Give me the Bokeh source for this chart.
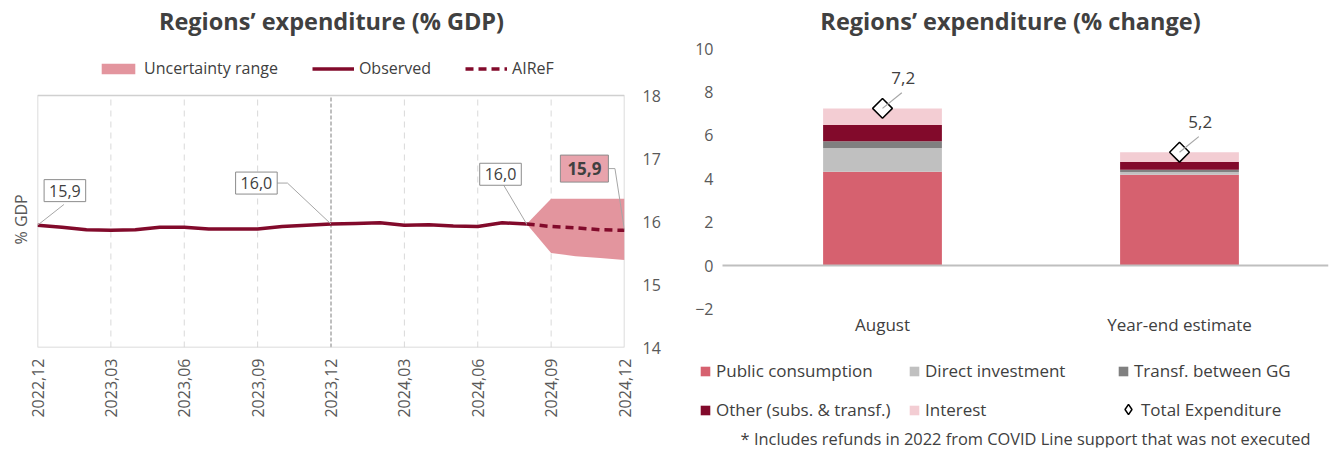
from math import pi
from bokeh.plotting import figure
from bokeh.models import (Range1d, LinearAxis, FixedTicker, Label, Title,
                          Legend, LegendItem, ColumnDataSource)
from bokeh.transform import dodge
from bokeh.embed import file_html
from bokeh.resources import INLINE

# ---------------- data ----------------
# Left chart: regions' expenditure (% GDP), monthly 2022-12 .. 2024-12
tick_index = [0, 3, 6, 9, 12, 15, 18, 21, 24]
tick_labels = ["2022,12", "2023,03", "2023,06", "2023,09", "2023,12",
               "2024,03", "2024,06", "2024,09", "2024,12"]
y_ticks_gdp = [14, 15, 16, 17, 18]
observed = [15.94, 15.91, 15.87, 15.86, 15.87, 15.91, 15.91, 15.88, 15.88, 15.88,
            15.92, 15.94, 15.96, 15.97, 15.98, 15.94, 15.95, 15.93, 15.92, 15.98,
            15.96]
airef = [15.96, 15.92, 15.90, 15.87, 15.86]
band_upper = [15.96, 16.36, 16.36, 16.36, 16.36]
band_lower = [15.96, 15.50, 15.45, 15.42, 15.39]

# Right chart: regions' expenditure (% change)
categories = ["August", "Year-end estimate"]
y_ticks_chg = [-2, 0, 2, 4, 6, 8, 10]
public_consumption = [4.32, 4.18]
direct_investment = [1.10, 0.13]
transf_gg = [0.31, 0.10]
other_subs = [0.74, 0.36]
interest = [0.77, 0.45]
total_expenditure = [7.24, 5.22]
series_names = ["Public consumption", "Direct investment", "Transf. between GG",
                "Other (subs. & transf.)", "Interest"]

# ---------------- style ----------------
FONT = "Open Sans"
TXT = "#404040"
AX = "#595959"
RED = "#820A2B"
BAND = "#E3959E"
LEAD = "#A6A6A6"
stack_colors = ["#D6616F", "#C0C0C0", "#808080", "#820A2B", "#F3CDD3"]


def fmt(v):
    return f"{v:.1f}".replace(".", ",")


# ---------------- left figure ----------------
# frame spans the whole upper area; the value box covers y 14..18
L_W, L_H = 664, 455
L_LEFT, L_RIGHT, L_BOTTOM = 37, 624, 347
L_BOX_TOP = 95
px_per_gdp = (L_BOTTOM - L_BOX_TOP) / (y_ticks_gdp[-1] - y_ticks_gdp[0])
p1 = figure(width=L_W, height=L_H,
            x_range=Range1d(tick_index[0], tick_index[-1]),
            y_range=Range1d(y_ticks_gdp[0], y_ticks_gdp[-1] + L_BOX_TOP / px_per_gdp),
            output_backend="svg", toolbar_location=None, title=None, y_axis_location=None,
            min_border_left=L_LEFT, min_border_right=L_W - L_RIGHT, min_border_top=0,
            min_border_bottom=L_H - L_BOTTOM)
p1.styles = {"position": "absolute", "left": "0px", "top": "0px"}
p1.outline_line_color = None
p1.grid.visible = False

xa = p1.xaxis[0]
xa.ticker = FixedTicker(ticks=tick_index)
xa.major_label_overrides = {t: l for t, l in zip(tick_index, tick_labels)}
xa.major_label_orientation = pi / 2
xa.axis_line_color = None
xa.major_tick_line_color = None
xa.minor_tick_line_color = None
xa.major_label_text_font = FONT
xa.major_label_text_font_size = "16px"
xa.major_label_text_color = AX
xa.major_label_standoff = 5

ra = LinearAxis(ticker=FixedTicker(ticks=y_ticks_gdp))
ra.axis_line_color = None
ra.major_tick_line_color = None
ra.minor_tick_line_color = None
ra.major_label_text_font = FONT
ra.major_label_text_font_size = "16px"
ra.major_label_text_color = AX
ra.major_label_standoff = 12
p1.add_layout(ra, "right")

p1.add_layout(Title(text="% GDP", align="left", offset=103, standoff=11, text_font=FONT,
                    text_font_size="16px", text_font_style="normal", text_color=AX), "left")

# box and vertical grid
grid_x = [t for t in tick_index if t not in (tick_index[0], tick_index[4], tick_index[-1])]
p1.segment(x0=grid_x, y0=y_ticks_gdp[0], x1=grid_x, y1=y_ticks_gdp[-1],
           line_color="#D9D9D9", line_width=1, line_dash="6 5")
p1.segment(x0=[tick_index[4]], y0=y_ticks_gdp[0], x1=[tick_index[4]], y1=y_ticks_gdp[-1],
           line_color="#7F7F7F", line_width=1, line_dash="4 2")
p1.quad(left=tick_index[0], right=tick_index[-1], bottom=y_ticks_gdp[0], top=y_ticks_gdp[-1],
        fill_color=None, line_color="#D0D0D0", line_width=1.5)

obs_x = list(range(len(observed)))
fc_x = list(range(len(observed) - 1, len(observed) - 1 + len(airef)))
r_band = p1.varea(x=fc_x, y1=band_lower, y2=band_upper, fill_color=BAND)
r_obs = p1.line(obs_x, observed, line_color=RED, line_width=3.5)
r_fc = p1.line(fc_x, airef, line_color=RED, line_width=3.5, line_dash="8 5")

leg1 = Legend(items=[LegendItem(label="Uncertainty range", renderers=[r_band]),
                     LegendItem(label="Observed", renderers=[r_obs]),
                     LegendItem(label="AIReF", renderers=[r_fc])],
              orientation="horizontal", location=(97 - L_LEFT, L_BOTTOM - 79),
              padding=0, margin=0,
              spacing=34, label_standoff=5, glyph_width=42, glyph_height=13,
              label_text_font=FONT, label_text_font_size="16px", label_text_color=TXT,
              background_fill_alpha=0, border_line_color=None)
p1.add_layout(leg1)

p1.add_layout(Label(x=331 - L_LEFT, y=L_BOTTOM - 20, x_units="screen", y_units="screen",
                    text="Regions’ expenditure (% GDP)", text_align="center",
                    text_baseline="middle", text_font=FONT, text_font_size="23.5px",
                    text_font_style="bold", text_color=TXT))

i0, i1, i2 = 0, 12, len(observed) - 1
i3 = fc_x[-1]
callouts = [
    (1.12, 16.49, [1.08, i0], [16.27, observed[i0]], fmt(observed[i0]), False),
    (8.95, 16.61, [9.78, 10.22, i1], [16.61, 16.61, observed[i1]], fmt(observed[i1]), False),
    (18.93, 16.75, [19.01, i2], [16.61, observed[i2]], fmt(observed[i2]), False),
    (22.36, 16.84, [23.34, 23.61, i3], [16.84, 16.84, airef[-1]], fmt(airef[-1]), True),
]
for bx, by, lx, ly, txt, bold in callouts:
    p1.line(lx, ly, line_color=LEAD, line_width=1)
    p1.add_layout(Label(x=bx, y=by, text=txt, text_align="center", text_baseline="middle",
                        text_font=FONT, text_font_size="17px" if bold else "16px",
                        text_font_style="bold" if bold else "normal", text_color=TXT,
                        border_line_color="#8C8C8C", border_line_width=1,
                        background_fill_color="#E8A3AC" if bold else "white",
                        padding=7 if bold else 5))

# ---------------- right figure ----------------
R_X0 = 664                     # page offset of the right figure
R_W, R_H = 672, 455
R_LEFT, R_RIGHT, R_BOTTOM = 697, 1328, 447
Y_ZERO, Y_TEN = 265, 48        # pixel rows of 0 and 10
CAT0, CAT1 = 882, 1179         # pixel columns of the two category centres
px_per_pct = (Y_ZERO - Y_TEN) / 10
px_per_cat = CAT1 - CAT0
cat_x = [i + 0.5 for i in range(len(categories))]

src = ColumnDataSource(dict(x=cat_x, pc=public_consumption, di=direct_investment,
                            tr=transf_gg, ot=other_subs, it=interest,
                            total=total_expenditure,
                            lead_end=[v + 0.72 for v in total_expenditure],
                            lbl_y=[v + 1.4 for v in total_expenditure],
                            lbl=[fmt(v) for v in total_expenditure]))
p2 = figure(width=R_W, height=R_H,
            x_range=Range1d(cat_x[0] - (CAT0 - R_LEFT) / px_per_cat,
                            cat_x[-1] + (R_RIGHT - CAT1) / px_per_cat),
            y_range=Range1d(-(R_BOTTOM - Y_ZERO) / px_per_pct, Y_ZERO / px_per_pct),
            output_backend="svg", toolbar_location=None, title=None,
            min_border_left=R_LEFT - R_X0, min_border_right=R_X0 + R_W - R_RIGHT,
            min_border_top=0, min_border_bottom=R_H - R_BOTTOM)
p2.styles = {"position": "absolute", "left": f"{R_X0}px", "top": "0px"}
p2.outline_line_color = None
p2.grid.visible = False
bars = p2.vbar_stack(["pc", "di", "tr", "ot", "it"], x="x", width=0.4, color=stack_colors,
                     line_color=None, source=src)
p2.segment(x0=[cat_x[0] - (CAT0 - 722) / px_per_cat], y0=[0],
           x1=[cat_x[-1] + (R_RIGHT - CAT1) / px_per_cat], y1=[0],
           line_color="#BFBFBF", line_width=2)

# diamond key (drawn under the rotated-square markers, used for the legend symbol)
diam_key = p2.scatter(x="x", y="total", marker="diamond", size=14, fill_color="white",
                      line_color="black", line_width=1.5, source=src)
diam = p2.scatter(x="x", y="total", marker="square", angle=pi / 4, size=14,
                  fill_color="white", line_color="black", line_width=1.5, source=src)
p2.segment(x0="x", y0="total", x1=dodge("x", 0.065), y1="lead_end",
           line_color=LEAD, line_width=1.2, source=src)
p2.text(x=dodge("x", 0.07), y="lbl_y", text="lbl", source=src,
        text_align="center", text_baseline="middle", text_font_size="17px",
        text_color=TXT, text_font={"value": FONT})

xb = p2.xaxis[0]
xb.ticker = FixedTicker(ticks=cat_x)
xb.major_label_overrides = {x: c for x, c in zip(cat_x, categories)}
xb.axis_line_color = None
xb.major_tick_line_color = None
xb.minor_tick_line_color = None
xb.major_label_text_font = FONT
xb.major_label_text_font_size = "17px"
xb.major_label_text_color = TXT
xb.major_label_standoff = -(R_BOTTOM - 306)

yb = p2.yaxis[0]
yb.ticker = FixedTicker(ticks=y_ticks_chg)
yb.axis_line_color = None
yb.major_tick_line_color = None
yb.minor_tick_line_color = None
yb.major_label_text_font = FONT
yb.major_label_text_font_size = "16px"
yb.major_label_text_color = AX
yb.major_label_standoff = -(719 - R_LEFT)

leg2 = Legend(items=[LegendItem(label=n, renderers=[r]) for n, r in zip(series_names, bars)],
              orientation="horizontal", ncols=3, location=(699 - R_LEFT, R_BOTTOM - 421),
              padding=0, margin=0,
              spacing=16, label_standoff=5, glyph_width=12, glyph_height=12,
              label_width=176, label_height=20,
              label_text_font=FONT, label_text_font_size="17px", label_text_color=TXT,
              background_fill_alpha=0, border_line_color=None)
p2.add_layout(leg2)
leg3 = Legend(items=[LegendItem(label="Total Expenditure", renderers=[diam_key])],
              location=(1115 - R_LEFT, R_BOTTOM - 422), padding=0, margin=0, label_standoff=0,
              glyph_width=26, glyph_height=26, label_height=20,
              label_text_font=FONT, label_text_font_size="17px", label_text_color=TXT,
              background_fill_alpha=0, border_line_color=None)
p2.add_layout(leg3)

p2.add_layout(Label(x=1010 - R_LEFT, y=R_BOTTOM - 20, x_units="screen", y_units="screen",
                    text="Regions’ expenditure (% change)", text_align="center",
                    text_baseline="middle", text_font=FONT, text_font_size="23.5px",
                    text_font_style="bold", text_color=TXT))
p2.add_layout(Label(x=1310 - R_LEFT, y=R_BOTTOM - 438, x_units="screen", y_units="screen",
                    text="* Includes refunds in 2022 from COVID Line support that was not executed",
                    text_align="right", text_baseline="middle", text_font=FONT,
                    text_font_size="16.4px", text_color=TXT))

open("out.html", "w").write(file_html([p1, p2], INLINE))
